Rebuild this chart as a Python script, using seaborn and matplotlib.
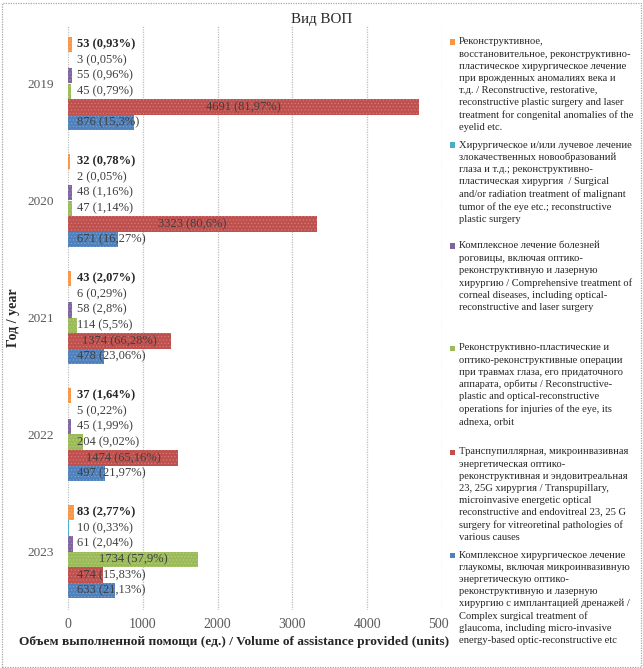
import matplotlib
matplotlib.use('Agg')
import matplotlib.pyplot as plt
import seaborn as sns
import pandas as pd
from matplotlib.patches import Rectangle
from matplotlib.colors import to_rgb

# ---------------- data ----------------
years = ['2019', '2020', '2021', '2022', '2023']

eyelid = [53, 32, 43, 37, 83]
eyelid_pct = ['0,93', '0,78', '2,07', '1,64', '2,77']
tumor = [3, 2, 6, 5, 10]
tumor_pct = ['0,05', '0,05', '0,29', '0,22', '0,33']
cornea = [55, 48, 58, 45, 61]
cornea_pct = ['0,96', '1,16', '2,8', '1,99', '2,04']
trauma = [45, 47, 114, 204, 1734]
trauma_pct = ['0,79', '1,14', '5,5', '9,02', '57,9']
vitreo = [4691, 3323, 1374, 1474, 474]
vitreo_pct = ['81,97', '80,6', '66,28', '65,16', '15,83']
glaucoma = [876, 671, 478, 497, 633]
glaucoma_pct = ['15,3', '16,27', '23,06', '21,97', '21,13']

series_keys = ['eyelid', 'tumor', 'cornea', 'trauma', 'vitreo', 'glaucoma']
series_values = [eyelid, tumor, cornea, trauma, vitreo, glaucoma]
series_pcts = [eyelid_pct, tumor_pct, cornea_pct, trauma_pct, vitreo_pct, glaucoma_pct]

legend_labels = [
    "Реконструктивное,\nвосстановительное, реконструктивно-\nпластическое хирургическое лечение\n"
    "при врожденных аномалиях века и\nт.д. / Reconstructive, restorative,\n"
    "reconstructive plastic surgery and laser\ntreatment for congenital anomalies of the\neyelid etc.",
    "Хирургическое и/или лучевое лечение\nзлокачественных новообразований\nглаза и т.д.; реконструктивно-\n"
    "пластическая хирургия  / Surgical\nand/or radiation treatment of malignant\n"
    "tumor of the eye etc.; reconstructive\nplastic surgery",
    "Комплексное лечение болезней\nроговицы, включая оптико-\nреконструктивную и лазерную\n"
    "хирургию / Comprehensive treatment of\ncorneal diseases, including optical-\n"
    "reconstructive and laser surgery",
    "Реконструктивно-пластические и\nоптико-реконструктивные операции\nпри травмах глаза, его придаточного\n"
    "аппарата, орбиты / Reconstructive-\nplastic and optical-reconstructive\n"
    "operations for injuries of the eye, its\nadnexa, orbit",
    "Транспупиллярная, микроинвазивная\nэнергетическая оптико-\nреконструктивная и эндовитреальная\n"
    "23, 25G хирургия / Transpupillary,\nmicroinvasive energetic optical\n"
    "reconstructive and endovitreal 23, 25 G\nsurgery for vitreoretinal pathologies of\nvarious causes",
    "Комплексное хирургическое лечение\nглаукомы, включая микроинвазивную\nэнергетическую оптико-\n"
    "реконструктивную и лазерную\nхирургию с имплантацией дренажей /\nComplex surgical treatment of\n"
    "glaucoma, including micro-invasive\nenergy-based optic-reconstructive etc",
]

colors = ['#F79646', '#4BACC6', '#8064A2', '#9BBB59', '#C0504D', '#4F81BD']
x_ticks = [0, 1000, 2000, 3000, 4000, 5000]
title = 'Вид ВОП'
xlabel = 'Объем выполненной помощи (ед.) / Volume of assistance provided (units)'
ylabel = 'Год / year'

rows = []
for key, vals, pcts in zip(series_keys, series_values, series_pcts):
    for yr, v, p in zip(years, vals, pcts):
        rows.append({'year': yr, 'group': key, 'value': v, 'pct': p})
df = pd.DataFrame(rows)

# ---------------- style ----------------
sns.set_theme(style='white')
plt.rcParams['font.family'] = ['Liberation Serif', 'DejaVu Serif']
plt.rcParams['hatch.linewidth'] = 0.4

W, H = 643, 668
fig = plt.figure(figsize=(W / 100, H / 100), dpi=100)
fig.patch.set_facecolor('white')
ax = fig.add_axes([68 / W, 58 / H, 374 / W, 585 / H])

sns.barplot(data=df, y='year', x='value', hue='group', hue_order=series_keys,
            order=years, palette=colors, orient='h', width=0.8, saturation=1,
            errorbar=None, legend=False, ax=ax)


def lighten(c, f):
    r, g, b = to_rgb(c)
    return (r + (1 - r) * f, g + (1 - g) * f, b + (1 - b) * f)


for cont, col in zip(ax.containers, colors):
    for bar in cont:
        bar.set_hatch('.....')
        bar.set_edgecolor(lighten(col, 0.3))
        bar.set_linewidth(0)

# data labels
for i, cont in enumerate(ax.containers):
    vals = series_values[i]
    pcts = series_pcts[i]
    bold = (i == 0)
    for j, bar in enumerate(cont):
        v = vals[j]
        txt = f'{v} ({pcts[j]}%)'
        yc = bar.get_y() + bar.get_height() / 2
        kw = dict(va='center', fontsize=9, color='#262626' if bold else '#404040',
                  fontweight='bold' if bold else 'normal')
        if v >= 1000:
            ax.annotate(txt, (v / 2, yc), ha='center', **kw)
        else:
            ax.annotate(txt, (0, yc), xytext=(6.5, 0), textcoords='offset points',
                        ha='left', **kw)

ax.set_xlim(0, 5000)
ax.set_xticks(x_ticks)
ax.set_xticklabels([str(t) for t in x_ticks])
ax.grid(axis='x', linestyle=(0, (1, 1)), color='#bfbfbf', linewidth=0.9)
ax.grid(axis='y', visible=False)
for s in ax.spines.values():
    s.set_visible(False)
ax.tick_params(axis='x', length=0, pad=6, labelsize=10, labelcolor='#595959')
ax.tick_params(axis='y', length=0, pad=10, labelsize=9.5, labelcolor='#595959')

ax.set_xlabel(xlabel, fontsize=9.6, fontweight='bold', color='#262626')
ax.xaxis.set_label_coords((234 - 68) / 374, -0.045)
ax.set_ylabel(ylabel, fontsize=10, fontweight='bold', color='#262626')
ax.yaxis.set_label_coords((20 - 68) / 374, 0.5)

fig.text(322 / W, 1 - 20 / H, title, ha='center', va='center', fontsize=10.8, color='#262626')

# legend panel (covers right part, like reference)
fig.patches.append(Rectangle((449 / W, 0.004), (640 - 449) / W, 0.99, transform=fig.transFigure,
                             facecolor='white', edgecolor='none', zorder=1))
first_line_y = [42, 145, 246, 348, 452, 555]
for lab, col, yc in zip(legend_labels, colors, first_line_y):
    fig.patches.append(Rectangle((450 / W, 1 - (yc + 2.5) / H), 5 / W, 5 / H,
                                 transform=fig.transFigure, facecolor=col,
                                 edgecolor='none', zorder=2))
    fig.text(459 / W, 1 - (yc - 4.5) / H, lab, ha='left', va='top', fontsize=7.6,
             linespacing=1.43, color='#262626', zorder=3)

# outer dotted border
fig.patches.append(Rectangle((1.5 / W, 1.5 / H), (W - 4) / W, (H - 4) / H, transform=fig.transFigure,
                             fill=False, linestyle=(0, (1, 1)), edgecolor='#a6a6a6',
                             linewidth=0.9, zorder=4))

fig.savefig('out.png', dpi=100, facecolor='white')
